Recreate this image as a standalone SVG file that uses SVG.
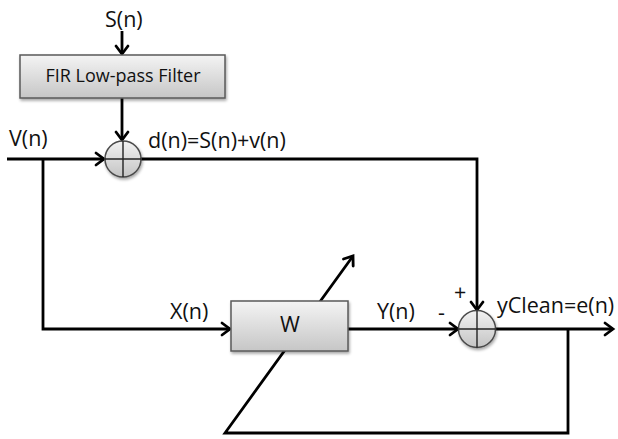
<svg xmlns="http://www.w3.org/2000/svg" width="618" height="439" viewBox="0 0 618 439">
  <defs>
    <linearGradient id="boxGrad" x1="0" y1="0" x2="0" y2="1">
      <stop offset="0" stop-color="#f4f4f4"/>
      <stop offset="1" stop-color="#c6c6c6"/>
    </linearGradient>
    <linearGradient id="sumGrad" x1="0" y1="0" x2="0" y2="1">
      <stop offset="0" stop-color="#f2f2f2"/>
      <stop offset="1" stop-color="#c4c4c4"/>
    </linearGradient>
    <marker id="arrow" markerUnits="userSpaceOnUse" markerWidth="16" markerHeight="16" viewBox="-10 -8 12 16" refX="0" refY="0" orient="auto" overflow="visible">
      <path d="M-8,-6 L0,0 L-8,6" fill="none" stroke="#000" stroke-width="2.8" stroke-linecap="round" stroke-linejoin="miter"/>
    </marker>
    <filter id="shadow" x="-10%" y="-10%" width="130%" height="140%">
      <feGaussianBlur in="SourceAlpha" stdDeviation="1.5"/>
      <feOffset dx="1" dy="2" result="b"/>
      <feComponentTransfer><feFuncA type="linear" slope="0.35"/></feComponentTransfer>
      <feMerge><feMergeNode/><feMergeNode in="SourceGraphic"/></feMerge>
    </filter>
  </defs>
  <style>
    .wire { fill: none; stroke: #000; stroke-width: 2.8; }
    .arr { marker-end: url(#arrow); }
    .box { fill: url(#boxGrad); stroke: #5a5a5a; stroke-width: 1.5; }
    .sum { fill: url(#sumGrad); stroke: #4a4a4a; stroke-width: 1.5; }
    .cross { stroke: #222; stroke-width: 1.4; }
    .lbl { font-family: "Open Sans", "Noto Sans", "DejaVu Sans", sans-serif; font-size: 21.5px; fill: #111; }
    .boxlbl { font-family: "Open Sans", "Noto Sans", "DejaVu Sans", sans-serif; font-size: 18px; fill: #111; text-anchor: middle; }
  </style>

  <g id="connectors">
    <line class="wire arr" x1="122" y1="31" x2="122" y2="54"/>
    <line class="wire arr" x1="122" y1="98" x2="122" y2="140"/>
    <line class="wire arr" x1="7" y1="159" x2="104" y2="159"/>
    <polyline class="wire arr" points="141,159 477,159 477,310"/>
    <polyline class="wire arr" points="43,159 43,329 230,329"/>
    <line class="wire arr" x1="348" y1="329" x2="458" y2="329"/>
    <line class="wire arr" x1="496" y1="329" x2="613" y2="329"/>
    <polyline class="wire arr" points="568,329 568,433 225,433 353,256"/>
  </g>

  <g id="filter">
    <rect class="box" x="20" y="55" width="205" height="43" filter="url(#shadow)"/>
    <text class="boxlbl" x="123" y="82">FIR Low-pass Filter</text>
  </g>

  <g id="sum1">
    <circle class="sum" cx="123" cy="159" r="18" filter="url(#shadow)"/>
    <line class="cross" x1="105" y1="159" x2="141" y2="159"/>
    <line class="cross" x1="123" y1="141" x2="123" y2="177"/>
  </g>

  <g id="w">
    <rect class="box" x="231" y="301" width="117" height="50" filter="url(#shadow)"/>
    <text class="lbl" x="290" y="332" text-anchor="middle">W</text>
  </g>

  <g id="sum2">
    <circle class="sum" cx="477" cy="329" r="18.5" filter="url(#shadow)"/>
    <line class="cross" x1="458.5" y1="329" x2="495.5" y2="329"/>
    <line class="cross" x1="477" y1="310.5" x2="477" y2="347.5"/>
  </g>

  <g id="labels">
    <text class="lbl" x="105" y="27">S(n)</text>
    <text class="lbl" x="9" y="146">V(n)</text>
    <text class="lbl" x="148" y="148">d(n)=S(n)+v(n)</text>
    <text class="lbl" x="170" y="319">X(n)</text>
    <text class="lbl" x="377" y="319">Y(n)</text>
    <text class="lbl" x="438" y="320">-</text>
    <text class="lbl" x="454" y="300">+</text>
    <text class="lbl" x="497" y="313">yClean=e(n)</text>
  </g>
</svg>
